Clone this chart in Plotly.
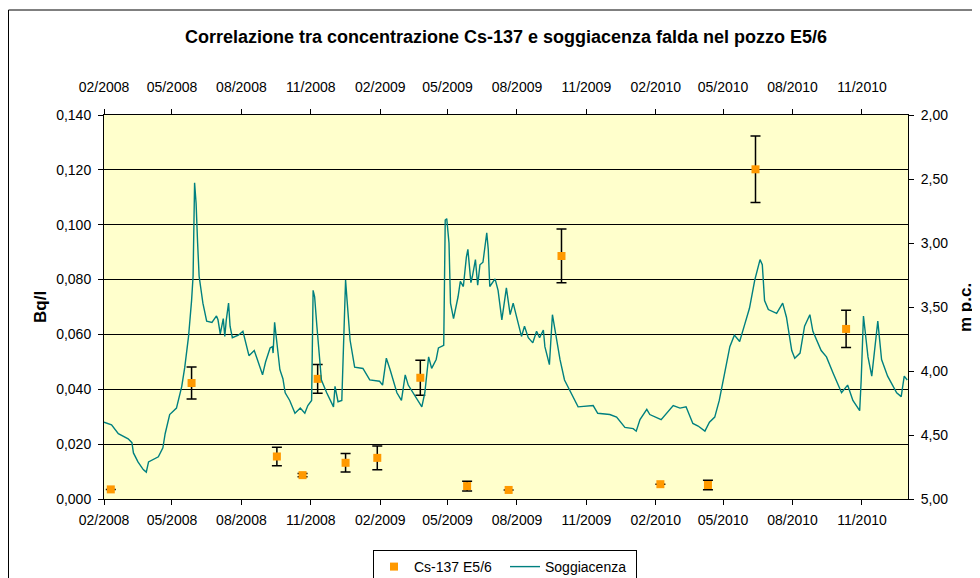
import pandas as pd
import plotly.graph_objects as go

# ---------------- data ----------------
start_date = "2008-02-01"
end_date = "2011-01-01"

tick_dates = ["2008-02-01", "2008-05-01", "2008-08-01", "2008-11-01",
              "2009-02-01", "2009-05-01", "2009-08-01", "2009-11-01",
              "2010-02-01", "2010-05-01", "2010-08-01", "2010-11-01"]
tick_labels = ["02/2008", "05/2008", "08/2008", "11/2008",
               "02/2009", "05/2009", "08/2009", "11/2009",
               "02/2010", "05/2010", "08/2010", "11/2010"]

# Cs-137 concentration (Bq/l) with uncertainty
cs_dates = ["2008-02-10", "2008-05-27", "2008-09-17", "2008-10-21", "2008-11-10",
            "2008-12-17", "2009-01-28", "2009-03-26", "2009-05-27", "2009-07-21",
            "2009-09-29", "2010-02-07", "2010-04-11", "2010-06-13", "2010-10-11"]
cs_values = [0.0035, 0.0423, 0.0155, 0.0087, 0.0438,
             0.0132, 0.0150, 0.0442, 0.0047, 0.0033,
             0.0886, 0.0054, 0.0051, 0.1202, 0.0620]
cs_errors = [0.0, 0.0058, 0.0034, 0.0006, 0.0052,
             0.0034, 0.0043, 0.0064, 0.0018, 0.0,
             0.0098, 0.0, 0.0017, 0.0121, 0.0068]

# Soggiacenza (m p.c.) : days after 2008-02-01 and depth
sogg_days = [0, 10, 19, 32, 37, 39, 45, 52, 56, 59, 72, 78, 81, 87, 96, 103, 107, 112, 116, 118,
             120, 122, 124, 126, 131, 136, 143, 149, 151, 154, 158, 160, 162, 165, 167, 170, 178, 184,
             192, 199, 202, 210, 214, 220, 223, 224, 226, 229, 233, 237, 240, 246, 253, 260, 266, 270,
             275, 277, 279, 282, 284, 288, 295, 304, 306, 310, 315, 318, 320, 322, 326, 332, 343, 352,
             365, 369, 374, 379, 388, 394, 399, 403, 416, 421, 425, 430, 434, 440, 443, 446, 450, 452,
             454, 457, 459, 463, 469, 472, 476, 480, 482, 486, 488, 492, 495, 498, 502, 507, 509, 511,
             518, 522, 527, 533, 538, 542, 549, 553, 557, 562, 568, 573, 577, 582, 584, 590, 594, 599,
             604, 610, 619, 628, 648, 654, 670, 679, 690, 701, 705, 710, 719, 723, 738, 754, 763, 771,
             780, 787, 796, 802, 809, 815, 822, 829, 835, 842, 849, 855, 862, 869, 872, 875, 880, 891,
             899, 904, 911, 915, 922, 928, 935, 939, 950, 957, 966, 977, 985, 992, 1001, 1003, 1006,
             1012, 1017, 1021, 1025, 1030, 1038, 1050, 1056, 1060, 1064]
sogg_depth = [4.40, 4.42, 4.49, 4.53, 4.56, 4.64, 4.71, 4.77, 4.79, 4.71, 4.67, 4.60, 4.49, 4.34, 4.29,
              4.12, 3.97, 3.73, 3.45, 3.26,
              2.53, 2.69, 3.00, 3.26, 3.47, 3.61, 3.62, 3.57, 3.60, 3.71, 3.59, 3.73, 3.60, 3.47, 3.65,
              3.74, 3.72, 3.69,
              3.88, 3.84, 3.89, 4.03, 3.93, 3.82, 3.81, 3.86, 3.62, 3.78, 3.99, 4.06, 4.17, 4.23, 4.33,
              4.29, 4.33, 4.27,
              4.23, 3.37, 3.42, 3.65, 3.81, 4.07, 4.17, 4.28, 4.12, 4.24, 4.23, 3.55, 3.29, 3.45, 3.76,
              3.97, 3.98, 4.07,
              4.08, 4.11, 3.90, 3.99, 4.17, 4.23, 4.03, 4.11, 4.23, 4.28, 4.17, 3.89, 3.98, 3.91, 3.82,
              3.81, 3.80, 2.82,
              2.81, 3.00, 3.47, 3.59, 3.42, 3.30, 3.34, 3.11, 3.05, 3.31, 3.26, 3.13, 3.33, 3.17, 3.15,
              2.92, 3.05, 3.34,
              3.28, 3.37, 3.60, 3.35, 3.56, 3.47, 3.65, 3.73, 3.65, 3.74, 3.78, 3.69, 3.74, 3.68, 3.81,
              3.95, 3.56, 3.73,
              3.91, 4.07, 4.17, 4.28, 4.27, 4.33, 4.34, 4.36, 4.44, 4.45, 4.47, 4.38, 4.30, 4.34, 4.38,
              4.27, 4.29, 4.28,
              4.41, 4.43, 4.47, 4.40, 4.36, 4.23, 4.02, 3.81, 3.72, 3.77, 3.63, 3.51, 3.29, 3.13, 3.17,
              3.45, 3.52, 3.55,
              3.47, 3.58, 3.84, 3.90, 3.86, 3.65, 3.56, 3.69, 3.84, 3.89, 4.02, 4.17, 4.11, 4.23, 4.31,
              4.07, 3.57,
              3.89, 4.04, 3.84, 3.61, 3.91, 4.04, 4.17, 4.20, 4.04, 4.07]

sogg_dates = pd.Timestamp(start_date) + pd.to_timedelta(sogg_days, unit="D")

# ---------------- figure ----------------
FONT = "Liberation Sans, Arial, sans-serif"
W, H = 972, 570
ML, MR, MT, MB = 96, 72, 107, 79
PW, PH = W - ML - MR, H - MT - MB

fig = go.Figure()
fig.add_trace(go.Scatter(
    x=cs_dates, y=cs_values, mode="markers", name="Cs-137 E5/6",
    marker=dict(symbol="square", size=8, color="#FF9900"),
    error_y=dict(type="data", array=cs_errors, visible=True, color="black",
                 thickness=1.5, width=5),
    xaxis="x", yaxis="y",
))
fig.add_trace(go.Scatter(
    x=sogg_dates, y=sogg_depth, mode="lines", name="Soggiacenza",
    line=dict(color="#008080", width=1.4),
    xaxis="x2", yaxis="y2",
))

common_x = dict(
    type="date", range=[start_date, end_date],
    tickmode="array", tickvals=tick_dates, ticktext=tick_labels,
    ticks="outside", ticklen=5, tickcolor="black", tickwidth=1,
    showline=True, linecolor="black", linewidth=1,
    showgrid=False, zeroline=False,
    tickfont=dict(family=FONT, size=14, color="black"),
)

fig.update_layout(
    width=W, height=H,
    margin=dict(l=ML, r=MR, t=MT, b=MB, autoexpand=False),
    paper_bgcolor="white", plot_bgcolor="#FFFFCC",
    font=dict(family=FONT, size=14, color="black"),
    separators=",.",
    title=dict(text="<b>Correlazione tra concentrazione Cs-137 e soggiacenza falda nel pozzo E5/6</b>",
               x=0.5, xref="paper", xanchor="center",
               y=1 - 29 / H, yref="container", yanchor="middle",
               font=dict(family=FONT, size=18, color="black")),
    xaxis=dict(**common_x, side="bottom", anchor="y", ticklabelstandoff=3),
    xaxis2=dict(**common_x, side="top", overlaying="x", anchor="y", ticklabelstandoff=11),
    yaxis=dict(range=[0, 0.14], dtick=0.02, tick0=0, tickformat=".3f",
               ticks="outside", ticklen=5, tickcolor="black",
               showline=True, linecolor="black", linewidth=1,
               showgrid=True, gridcolor="black", gridwidth=1, zeroline=False,
               tickfont=dict(family=FONT, size=14, color="black"), ticklabelstandoff=4),
    yaxis2=dict(range=[5, 2], dtick=0.5, tick0=2, tickformat=".2f",
                overlaying="y", side="right", anchor="x",
                ticks="outside", ticklen=5, tickcolor="black",
                showline=True, linecolor="black", linewidth=1,
                showgrid=False, zeroline=False,
                tickfont=dict(family=FONT, size=14, color="black"), ticklabelstandoff=4),
    legend=dict(orientation="h", x=(373 - 104) / PW, y=(499 - 550) / PH,
                xanchor="left", yanchor="top",
                entrywidth=86, entrywidthmode="pixels",
                bgcolor="white", bordercolor="black", borderwidth=1,
                font=dict(family=FONT, size=14, color="black")),
    annotations=[
        dict(text="<b>Bq/l</b>", x=(40 - 104) / PW, y=0.5, xref="paper", yref="paper",
             textangle=-90, showarrow=False, xanchor="center", yanchor="middle",
             font=dict(family=FONT, size=17, color="black")),
        dict(text="<b>m p.c.</b>", x=(965 - 104) / PW, y=0.5, xref="paper", yref="paper",
             textangle=-90, showarrow=False, xanchor="center", yanchor="middle",
             font=dict(family=FONT, size=17, color="black")),
    ],
    shapes=[
        dict(type="rect", xref="paper", yref="paper",
             x0=(0.5 - ML) / PW, x1=(977 - 104) / PW,
             y0=(499 - 600) / PH, y1=(499 - 10) / PH,
             line=dict(color="black", width=1), fillcolor="rgba(0,0,0,0)", layer="below"),
    ],
)

fig.write_html("out.html")
